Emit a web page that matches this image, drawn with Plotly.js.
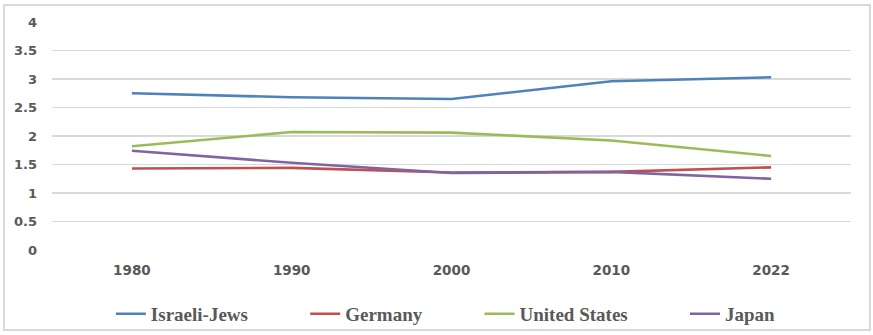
<!DOCTYPE html>
<html>
<head>
<meta charset="utf-8">
<script src="https://cdn.plot.ly/plotly-3.0.1.min.js"></script>
<style>
html,body{margin:0;padding:0;background:#fff;}
#wrap{position:relative;width:873px;height:335px;}
#chart{width:873px;height:335px;}
#frame{position:absolute;left:3px;top:4px;width:864px;height:323px;border:2px solid #d9d9d9;pointer-events:none;}
</style>
</head>
<body>
<div id="wrap"><div id="chart"></div><div id="frame"></div></div>
<script>
const years = ['1980', '1990', '2000', '2010', '2022'];
const israeliJews = [2.75, 2.68, 2.65, 2.96, 3.03];
const germany = [1.43, 1.44, 1.36, 1.37, 1.45];
const unitedStates = [1.82, 2.07, 2.06, 1.92, 1.65];
const japan = [1.74, 1.53, 1.35, 1.37, 1.25];
const seriesNames = ['Israeli-Jews', 'Germany', 'United States', 'Japan'];
const colors = ['#4f81bd', '#c0504d', '#9bbb59', '#8064a2'];
const yTicks = [0, 0.5, 1, 1.5, 2, 2.5, 3, 3.5, 4];

const pad = '\u00a0'.repeat(11);
const data = [israeliJews, germany, unitedStates, japan].map((vals, i) => ({
  type: 'scatter', mode: 'lines', x: years, y: vals,
  name: seriesNames[i] + (i < 3 ? pad : ''),
  line: {color: colors[i], width: 2.6}
}));

const layout = {
  width: 873, height: 335,
  margin: {l: 52, r: 22, t: 22, b: 85},
  paper_bgcolor: '#fff', plot_bgcolor: '#fff',
  font: {family: 'DejaVu Sans', color: '#595959'},
  showlegend: true,
  legend: {
    orientation: 'h', xref: 'container', yref: 'container',
    x: 0.127, xanchor: 'left', y: 0.063, yanchor: 'middle',
    font: {family: 'Liberation Serif', size: 19, color: '#595959', weight: 'bold'},
    itemwidth: 30
  },
  xaxis: {
    type: 'category', range: [-0.5, 4.5], showgrid: false, zeroline: false,
    showline: false, ticks: '', automargin: false,
    tickfont: {family: 'DejaVu Sans', size: 13.5, color: '#595959', weight: 'bold'},
    ticklabelstandoff: 10
  },
  yaxis: {
    range: [0, 4], tickvals: yTicks, ticktext: yTicks.map(String),
    showgrid: true, gridcolor: '#d9d9d9', gridwidth: 1.5, zeroline: false,
    showline: false, ticks: '', automargin: false,
    tickfont: {family: 'DejaVu Sans', size: 13, color: '#595959', weight: 'bold'},
    ticklabelstandoff: 14
  }
};

Plotly.newPlot('chart', data, layout, {displayModeBar: false, staticPlot: true});
</script>
</body>
</html>
